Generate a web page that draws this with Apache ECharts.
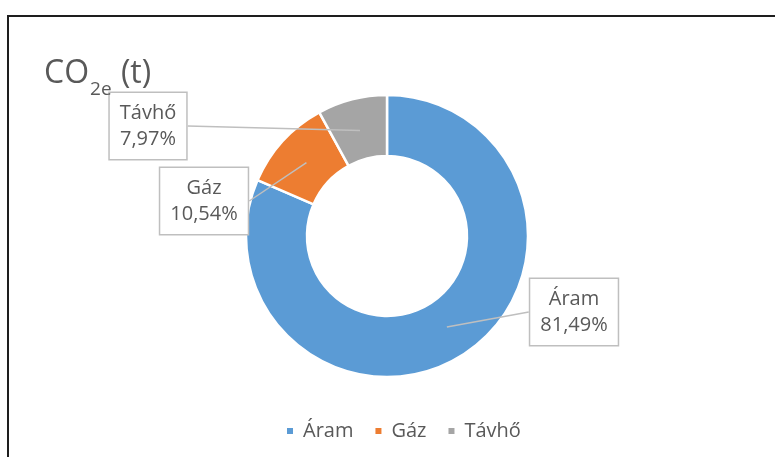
<!DOCTYPE html>
<html>
<head>
<meta charset="utf-8">
<script src="https://cdn.jsdelivr.net/npm/echarts@6/dist/echarts.min.js"></script>
<style>
    html, body { margin: 0; padding: 0; background: #fff; }
    #chart { position: absolute; left: 0; top: 0; width: 775px; height: 457px; }
    #frame { position: absolute; left: 7px; top: 15px; width: 800px; height: 500px;
             border-top: 2px solid #1e1e1e; border-left: 2px solid #1e1e1e; pointer-events: none; }
</style>
</head>
<body>
<div id="chart"></div>
<div id="frame"></div>
<script>
// 数据
var categories = ['Áram', 'Gáz', 'Távhő'];
var shares = [81.49, 10.54, 7.97];   // %
var colors = ['#5B9BD5', '#ED7D31', '#A5A5A5'];

var font = '"Open Sans", "Noto Sans", sans-serif';
var textColor = '#595959';

function pieData() {
    var arr = [];
    for (var i = 0; i < categories.length; i++) {
        arr.push({ name: categories[i], value: shares[i] });
    }
    return arr;
}

// 标注框位置 (label center)
var calloutPos = {
    'Áram': [574, 312],
    'Gáz': [204, 201],
    'Távhő': [148, 126]
};

var myChart = echarts.init(document.getElementById('chart'));

var option = {
    animation: false,
    color: colors,
    title: {
        text: '{a|CO}{b|2e}{a| (t)}',
        left: 39,
        top: 53,
        textStyle: {
            fontWeight: 'normal',
            rich: {
                a: { fontSize: 32, lineHeight: 46, color: textColor, fontFamily: font, fontWeight: 'normal', verticalAlign: 'top' },
                b: { fontSize: 19, lineHeight: 19, color: textColor, fontFamily: font, fontWeight: 'normal', verticalAlign: 'top', padding: [22, 1, 0, 1] }
            }
        }
    },
    legend: {
        left: 280,
        top: 416,
        icon: 'rect',
        itemWidth: 8,
        itemHeight: 8,
        itemGap: 20,
        data: categories,
        textStyle: { fontSize: 20, color: textColor, fontFamily: font, padding: [0, 0, 0, 4] }
    },
    series: [
        {
            // 圆环
            name: 'CO2e',
            type: 'pie',
            z: 2,
            center: [387, 236],
            radius: [80, 141],
            startAngle: 90,
            clockwise: true,
            silent: true,
            label: { show: false },
            labelLine: { show: false },
            itemStyle: { borderColor: '#fff', borderWidth: 2.5 },
            data: pieData()
        },
        {
            // 标注 (指向环中间)
            name: 'labels',
            type: 'pie',
            z: 5,
            center: [387, 236],
            radius: [0, 109],
            startAngle: 90,
            clockwise: true,
            silent: true,
            itemStyle: { color: 'rgba(0,0,0,0)' },
            label: {
                show: true,
                position: 'outside',
                formatter: function (p) {
                    return p.name + '\n' + p.value.toFixed(2).replace('.', ',') + '%';
                },
                fontSize: 20,
                lineHeight: 26,
                fontFamily: font,
                color: textColor,
                align: 'center',
                backgroundColor: '#fff',
                borderColor: '#bfbfbf',
                borderWidth: 1.5,
                padding: [7, 10]
            },
            labelLine: {
                show: true,
                length: 0,
                length2: 0,
                lineStyle: { color: '#bfbfbf', width: 1.5 }
            },
            labelLayout: function (params) {
                var name = categories[params.dataIndex];
                var pos = calloutPos[name];
                return { x: pos[0], y: pos[1], align: 'center', verticalAlign: 'middle' };
            },
            data: pieData()
        }
    ]
};

myChart.setOption(option);
</script>
</body>
</html>
